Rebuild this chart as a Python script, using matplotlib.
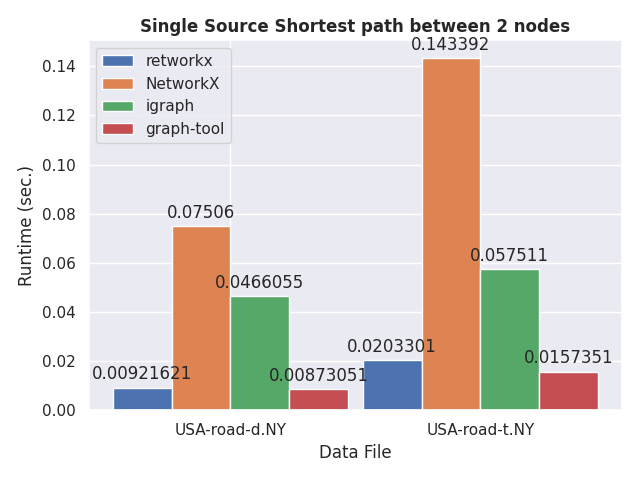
import matplotlib
matplotlib.use("Agg")
import matplotlib.pyplot as plt
import seaborn as sns
import numpy as np

sns.set_theme(style="darkgrid")

files = ["USA-road-d.NY", "USA-road-t.NY"]
libs = ["retworkx", "NetworkX", "igraph", "graph-tool"]
retworkx = [0.00921621, 0.0203301]
networkx = [0.07506, 0.143392]
igraph = [0.0466055, 0.057511]
graph_tool = [0.00873051, 0.0157351]

runtimes = [retworkx, networkx, igraph, graph_tool]

x = np.arange(len(files))
width = 0.235

fig, ax = plt.subplots(figsize=(6.4, 4.8), dpi=100)
for i, (lib, vals) in enumerate(zip(libs, runtimes)):
    offset = (i - 1.5) * width
    rects = ax.bar(x + offset, vals, width, label=lib)
    ax.bar_label(rects, padding=3)

ax.set_ylabel("Runtime (sec.)")
ax.set_xlabel("Data File")
ax.set_title("Single Source Shortest path between 2 nodes", fontweight="bold")
ax.set_xticks(x)
ax.set_xticklabels(files)
ax.legend(loc="upper left")

fig.tight_layout()
fig.savefig("out.png")
